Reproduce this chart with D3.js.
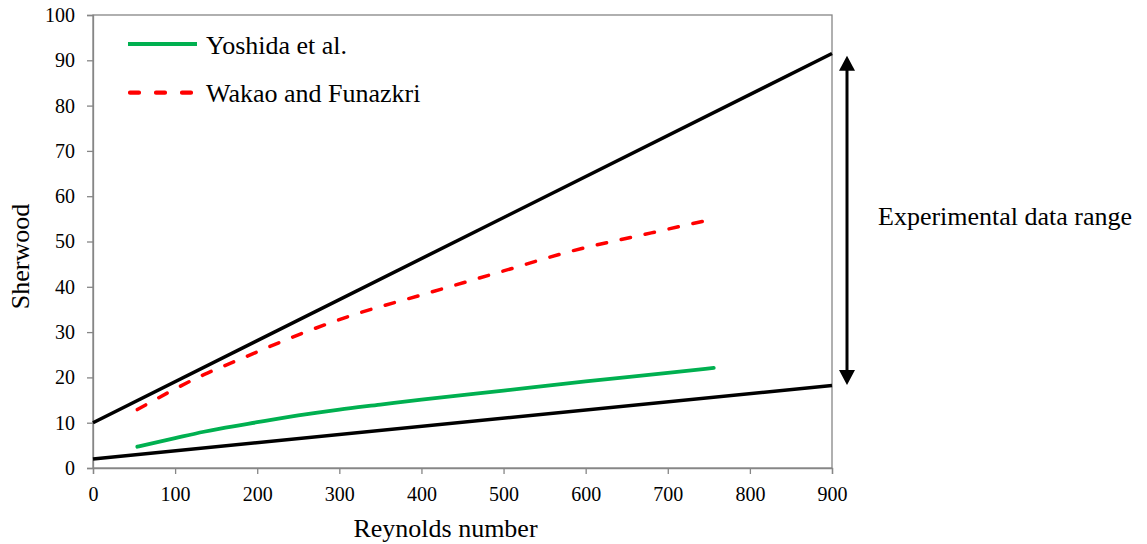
<!DOCTYPE html>
<html>
<head>
<meta charset="utf-8">
<script src="https://cdn.jsdelivr.net/npm/d3@7"></script>
<style>
  body { margin: 0; background: #fff; }
  text { font-family: "Liberation Serif", "Times New Roman", serif; fill: #000; }
</style>
</head>
<body>
<div id="chart"></div>
<script>
// values
var reYoshida = [54, 100, 135, 155, 200, 250, 300, 350, 400, 500, 600, 700, 756];
var shYoshida = [4.7, 6.6, 8.0, 8.7, 10.1, 11.6, 12.9, 14.0, 15.1, 17.1, 19.1, 21.0, 22.1];

var reWakao = [54, 135, 175, 260, 317, 400, 500, 581, 680, 756];
var shWakao = [12.9, 20.6, 23.7, 30.1, 33.8, 38.2, 43.5, 47.8, 51.9, 55.0];

var reBounds = [0, 900];
var shUpper = [10, 91.5];
var shLower = [2, 18.2];

var rangeEnds = [18.3, 91.0];

var xTicks = [0, 100, 200, 300, 400, 500, 600, 700, 800, 900];
var yTicks = [0, 10, 20, 30, 40, 50, 60, 70, 80, 90, 100];

var legendNames = ["Yoshida et al.", "Wakao and Funazkri"];

var margin = {top: 15, right: 315, bottom: 76, left: 93},
    width = 1147 - margin.left - margin.right,
    height = 544 - margin.top - margin.bottom;

var svg = d3.select("#chart").append("svg")
    .attr("width", 1147)
    .attr("height", 544)
  .append("g")
    .attr("transform", "translate(" + margin.left + "," + margin.top + ")");

var x = d3.scaleLinear().domain([0, 900]).range([0, width]);
var y = d3.scaleLinear().domain([0, 100]).range([height, 0]);

var axisColor = "#868686";
var serif = "'Liberation Serif', 'Times New Roman', serif";

// plot box
svg.append("rect")
    .attr("x", 0).attr("y", 0)
    .attr("width", width).attr("height", height)
    .attr("fill", "none")
    .attr("stroke", axisColor)
    .attr("stroke-width", 1.3);

var xAxis = svg.append("g")
    .attr("transform", "translate(0," + height + ")")
    .call(d3.axisBottom(x).tickValues(xTicks).tickSize(6).tickPadding(12).tickFormat(d3.format("d")));

var yAxis = svg.append("g")
    .call(d3.axisLeft(y).tickValues(yTicks).tickSize(6).tickPadding(12).tickFormat(d3.format("d")));

[xAxis, yAxis].forEach(function(a){
  a.attr("font-family", serif);
  a.select(".domain").attr("stroke", axisColor).attr("stroke-width", 1.3);
  a.selectAll(".tick line").attr("stroke", axisColor).attr("stroke-width", 1.3);
  a.selectAll(".tick text")
    .style("font-family", serif)
    .style("font-size", "20px")
    .attr("fill", "#000");
});
xAxis.selectAll(".tick text").attr("dy", "0.75em");

// axis titles
svg.append("text")
    .attr("x", x(450) - 17)
    .attr("y", height + 69)
    .attr("text-anchor", "middle")
    .style("font-size", "26px")
    .text("Reynolds number");

svg.append("text")
    .attr("transform", "translate(" + (-64) + "," + (y(50) + 15) + ") rotate(-90)")
    .attr("text-anchor", "middle")
    .style("font-size", "26px")
    .text("Sherwood");

var line = d3.line()
    .x(function(d){ return x(d[0]); })
    .y(function(d){ return y(d[1]); });

var curve = d3.line()
    .curve(d3.curveMonotoneX)
    .x(function(d){ return x(d[0]); })
    .y(function(d){ return y(d[1]); });

// bounds of the experimental range
[shUpper, shLower].forEach(function(s){
  svg.append("path")
    .datum(d3.zip(reBounds, s))
    .attr("d", line)
    .attr("fill", "none")
    .attr("stroke", "#000")
    .attr("stroke-width", 3.5);
});

svg.append("path")
    .datum(d3.zip(reWakao, shWakao))
    .attr("d", curve)
    .attr("fill", "none")
    .attr("stroke", "#FF0000")
    .attr("stroke-width", 3.5)
    .attr("stroke-linecap", "round")
    .attr("stroke-dasharray", "9.5,15");

svg.append("path")
    .datum(d3.zip(reYoshida, shYoshida))
    .attr("d", curve)
    .attr("fill", "none")
    .attr("stroke", "#00B050")
    .attr("stroke-width", 3.8)
    .attr("stroke-linecap", "round");

// double arrow
var ax = width + 15, head = 15, half = 8;
svg.append("line")
    .attr("x1", ax).attr("x2", ax)
    .attr("y1", y(rangeEnds[1]) + head - 1)
    .attr("y2", y(rangeEnds[0]) - head + 1)
    .attr("stroke", "#000")
    .attr("stroke-width", 3);

svg.append("path")
    .attr("d", "M" + ax + "," + y(rangeEnds[1]) + "L" + (ax - half) + "," + (y(rangeEnds[1]) + head) + "L" + (ax + half) + "," + (y(rangeEnds[1]) + head) + "Z")
    .attr("fill", "#000");
svg.append("path")
    .attr("d", "M" + ax + "," + y(rangeEnds[0]) + "L" + (ax - half) + "," + (y(rangeEnds[0]) - head) + "L" + (ax + half) + "," + (y(rangeEnds[0]) - head) + "Z")
    .attr("fill", "#000");

svg.append("text")
    .attr("x", width + 46)
    .attr("y", 210)
    .style("font-size", "26px")
    .text("Experimental data range");

// legend
var legend = svg.append("g").attr("transform", "translate(35,29)");

legend.append("line")
    .attr("x1", 0).attr("x2", 69).attr("y1", 0).attr("y2", 0)
    .attr("stroke", "#00B050").attr("stroke-width", 4.2);
legend.append("line")
    .attr("x1", 2).attr("x2", 69).attr("y1", 48.7).attr("y2", 48.7)
    .attr("stroke", "#FF0000").attr("stroke-width", 4.2)
    .attr("stroke-linecap", "round")
    .attr("stroke-dasharray", "9,17");

legend.selectAll("text.leg")
    .data(legendNames)
    .enter().append("text")
    .attr("class", "leg")
    .attr("x", 78)
    .attr("y", function(d, i){ return 10 + i * 48; })
    .style("font-size", "26px")
    .style("font-family", serif)
    .text(function(d){ return d; });
</script>
</body>
</html>
